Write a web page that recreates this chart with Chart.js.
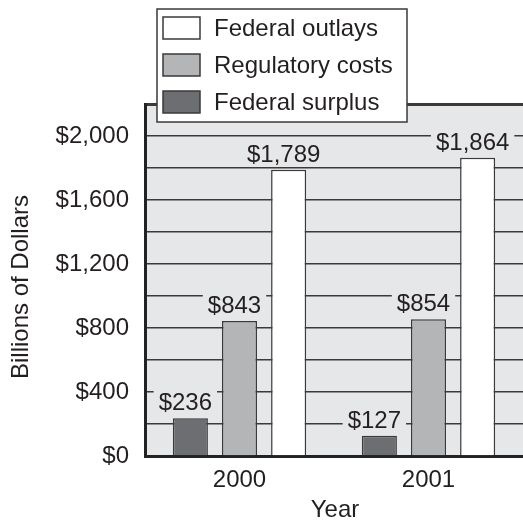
<!DOCTYPE html>
<html>
<head>
<meta charset="utf-8">
<script src="https://cdn.jsdelivr.net/npm/chart.js@4.4.1/dist/chart.umd.min.js"></script>
<style>
  html, body { margin: 0; padding: 0; background: #ffffff; }
  #wrap { width: 523px; height: 520px; }
</style>
</head>
<body>
<div id="wrap"><canvas id="c" width="523" height="520"></canvas></div>
<script>
// Budget figures, billions of dollars
const years = ['2000', '2001'];
const federalSurplus = [236, 127];
const regulatoryCosts = [843, 854];
const federalOutlays = [1789, 1864];

const seriesNames = ['Federal surplus', 'Regulatory costs', 'Federal outlays'];
const seriesFill = ['#6d6e71', '#b4b5b7', '#ffffff'];

const yMax = 2200;
const yStep = 200;
const labelStep = 400;
const yTitle = 'Billions of Dollars';
const xTitle = 'Year';

const FONT = "'Liberation Sans', Arial, Helvetica, sans-serif";
const FONT_SIZE = 24;
const INK = '#231f20';
const LINE = '#3a3a3a';
const PLOT_BG = '#e6e7e8';

const money = v => '$' + v.toLocaleString('en-US');

// Shaded plot area behind everything
const plotBackground = {
  id: 'plotBackground',
  beforeDraw(chart) {
    const { ctx, chartArea: a } = chart;
    ctx.save();
    ctx.fillStyle = PLOT_BG;
    ctx.fillRect(a.left, a.top, a.right - a.left, a.bottom - a.top);
    ctx.restore();
  }
};

// Dollar labels above each bar, on a patch of plot colour so grid lines break around them
const barValues = {
  id: 'barValues',
  afterDatasetsDraw(chart) {
    const { ctx } = chart;
    ctx.save();
    ctx.font = FONT_SIZE + 'px ' + FONT;
    ctx.textAlign = 'center';
    ctx.textBaseline = 'alphabetic';
    chart.data.datasets.forEach((ds, di) => {
      const meta = chart.getDatasetMeta(di);
      meta.data.forEach((bar, i) => {
        const txt = money(ds.data[i]);
        const x = bar.x - 5;
        const y = bar.y - 8;
        const w = ctx.measureText(txt).width + 10;
        ctx.fillStyle = PLOT_BG;
        ctx.fillRect(x - w / 2, y - 20, w, 23);
        ctx.fillStyle = INK;
        ctx.fillText(txt, x, y);
      });
    });
    ctx.restore();
  }
};

// Axis titles
const axisTitles = {
  id: 'axisTitles',
  afterDraw(chart) {
    const { ctx } = chart;
    ctx.save();
    ctx.font = FONT_SIZE + 'px ' + FONT;
    ctx.fillStyle = INK;
    ctx.textAlign = 'center';
    ctx.textBaseline = 'middle';
    ctx.fillText(xTitle, 335, 510);
    ctx.translate(21, 287);
    ctx.rotate(-Math.PI / 2);
    ctx.fillText(yTitle, 0, 0);
    ctx.restore();
  }
};

// Boxed legend overlapping the top of the plot
const boxedLegend = {
  id: 'boxedLegend',
  afterDraw(chart) {
    const { ctx } = chart;
    const items = chart.data.datasets.map(ds => ({ text: ds.label, fill: ds.backgroundColor })).reverse();
    ctx.save();
    ctx.fillStyle = '#ffffff';
    ctx.strokeStyle = LINE;
    ctx.lineWidth = 1.5;
    ctx.fillRect(157, 9, 250, 113);
    ctx.strokeRect(157, 9, 250, 113);
    ctx.font = FONT_SIZE + 'px ' + FONT;
    ctx.textAlign = 'left';
    ctx.textBaseline = 'alphabetic';
    items.forEach((it, i) => {
      const top = 17 + i * 37;
      ctx.fillStyle = it.fill;
      ctx.fillRect(163, top, 37, 22);
      ctx.strokeStyle = LINE;
      ctx.lineWidth = 1.5;
      ctx.strokeRect(163, top, 37, 22);
      ctx.fillStyle = INK;
      ctx.fillText(it.text, 214, top + 19);
    });
    ctx.restore();
  }
};

const seriesData = [federalSurplus, regulatoryCosts, federalOutlays];

new Chart(document.getElementById('c'), {
  type: 'bar',
  data: {
    labels: years,
    datasets: seriesData.map((d, i) => ({
      label: seriesNames[i],
      data: d,
      backgroundColor: seriesFill[i],
      borderColor: LINE,
      borderWidth: 1.5,
      borderSkipped: 'bottom',
      categoryPercentage: 0.78,
      barPercentage: 0.714
    }))
  },
  options: {
    responsive: false,
    animation: false,
    devicePixelRatio: 1,
    layout: { padding: { top: 104, right: 0, left: 0, bottom: 0 } },
    plugins: {
      legend: { display: false },
      tooltip: { enabled: false }
    },
    scales: {
      x: {
        grid: { display: false, drawTicks: false },
        border: { display: true, color: '#222222', width: 3 },
        ticks: { color: INK, font: { family: FONT, size: FONT_SIZE }, padding: 10 },
        afterFit(s) { s.height = 64; }
      },
      y: {
        min: 0,
        max: yMax,
        ticks: {
          stepSize: yStep,
          color: INK,
          font: { family: FONT, size: FONT_SIZE },
          padding: 16,
          callback: v => (v % labelStep === 0 ? money(v) : '')
        },
        grid: {
          color: LINE,
          lineWidth: c => (c.tick && c.tick.value === yMax ? 3 : 1.5),
          drawTicks: false
        },
        border: { display: true, color: '#222222', width: 3 },
        afterFit(s) { s.width = 145; }
      }
    }
  },
  plugins: [plotBackground, barValues, axisTitles, boxedLegend]
});
</script>
</body>
</html>
